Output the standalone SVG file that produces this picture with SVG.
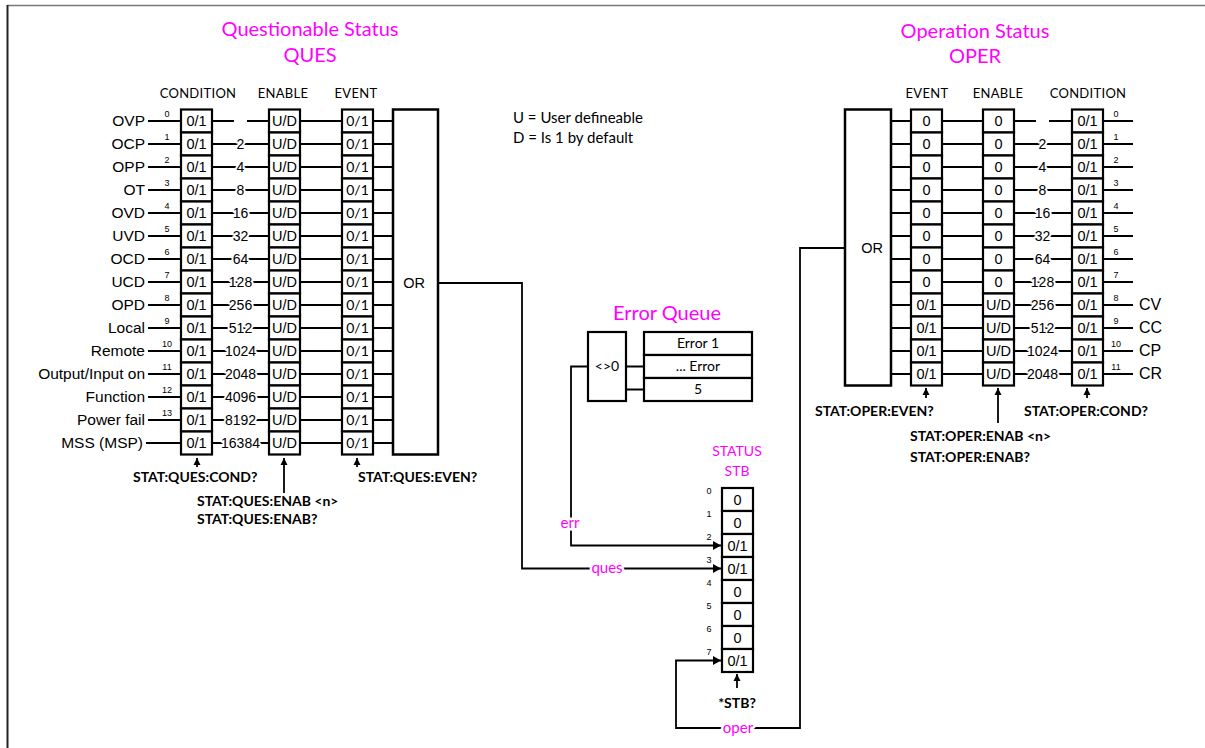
<svg xmlns="http://www.w3.org/2000/svg" width="1205" height="748" viewBox="0 0 1205 748">
<style>
.cell{fill:#fff;stroke:#000;stroke-width:2.2}
.box{fill:#fff;stroke:#000;stroke-width:2.5}
.ln{stroke:#000;stroke-width:1.8;fill:none}
.v{font-family:"Liberation Sans",Arial,sans-serif;font-size:14.5px;text-anchor:middle}
.ev{font-family:Lato,"Liberation Sans",sans-serif;font-size:14px;text-anchor:middle}
.lbl{font-family:"Liberation Sans",Arial,sans-serif;font-size:15.5px;text-anchor:end}
.lbr{font-family:"Liberation Sans",Arial,sans-serif;font-size:16px}
.num{font-family:"Liberation Sans",Arial,sans-serif;font-size:14px;text-anchor:middle;paint-order:stroke;stroke:#fff;stroke-width:4px;stroke-linejoin:round}
.bit{font-family:"Liberation Sans",sans-serif;font-size:9px;text-anchor:middle;fill:#000}
.hd{font-family:Lato,"Open Sans",sans-serif;font-size:13px;text-anchor:middle;letter-spacing:0.3px}
.cmd{font-family:Lato,"Open Sans",sans-serif;font-size:14px;font-weight:bold}
.mg{font-family:Lato,"Open Sans",sans-serif;fill:#f0f;text-anchor:middle}
.mgl{font-family:Lato,"Open Sans",sans-serif;font-size:15px;fill:#f0f;text-anchor:middle;paint-order:stroke;stroke:#fff;stroke-width:5px}
.note{font-family:Lato,"Open Sans",sans-serif;font-size:15px}
</style>
<defs>
<rect id="c" width="31" height="23" class="cell"/>
<marker id="ar" markerUnits="userSpaceOnUse" markerWidth="9" markerHeight="9" refX="8" refY="4.5" orient="auto">
<path d="M0,0 L8,4.5 L0,9 z" fill="#000"/>
</marker>
<marker id="au" markerUnits="userSpaceOnUse" markerWidth="8" markerHeight="8" refX="7" refY="4" orient="auto">
<path d="M0,0.5 L7,4 L0,7.5 z" fill="#000"/>
</marker>
</defs>
<rect width="1205" height="748" fill="#fff"/>
<g id="frame">
<line x1="7" y1="5.5" x2="1205" y2="5.5" stroke="#777" stroke-width="1.5"/>
<line x1="7.5" y1="5" x2="7.5" y2="748" stroke="#222" stroke-width="2"/>
</g>

<g id="titles">
<text class="mg" x="310" y="36" font-size="20">Questionable Status</text>
<text class="mg" x="310" y="62" font-size="20">QUES</text>
<text class="mg" x="975" y="38" font-size="20">Operation Status</text>
<text class="mg" x="975" y="63" font-size="20">OPER</text>
<text class="hd" x="198" y="98">CONDITION</text>
<text class="hd" x="283" y="98">ENABLE</text>
<text class="hd" x="356" y="98">EVENT</text>
<text class="hd" x="927" y="98">EVENT</text>
<text class="hd" x="998" y="98">ENABLE</text>
<text class="hd" x="1088" y="98">CONDITION</text>
<text class="note" x="513" y="123">U = User defineable</text>
<text class="note" x="513" y="143">D = Is 1 by default</text>
</g>

<g id="connectors" class="ln">
<!-- QUES rows -->
<path d="M148 121H181M212 121H234M247 121H269M299 121H342M372 121H393"/>
<path d="M148 144H181M212 144H269M299 144H342M372 144H393"/>
<path d="M148 167H181M212 167H269M299 167H342M372 167H393"/>
<path d="M148 190H181M212 190H269M299 190H342M372 190H393"/>
<path d="M148 213H181M212 213H269M299 213H342M372 213H393"/>
<path d="M148 236H181M212 236H269M299 236H342M372 236H393"/>
<path d="M148 259H181M212 259H269M299 259H342M372 259H393"/>
<path d="M148 282H181M212 282H269M299 282H342M372 282H393"/>
<path d="M148 305H181M212 305H269M299 305H342M372 305H393"/>
<path d="M148 328H181M212 328H269M299 328H342M372 328H393"/>
<path d="M148 351H181M212 351H269M299 351H342M372 351H393"/>
<path d="M148 374H181M212 374H269M299 374H342M372 374H393"/>
<path d="M148 397H181M212 397H269M299 397H342M372 397H393"/>
<path d="M148 420H181M212 420H269M299 420H342M372 420H393"/>
<path d="M146 443H181M212 443H269M299 443H342M372 443H393"/>
<!-- OPER rows -->
<path d="M891 121H911M941 121H983M1013 121H1036M1049 121H1072M1102 121H1133"/>
<path d="M891 144H911M941 144H983M1013 144H1072M1102 144H1133"/>
<path d="M891 167H911M941 167H983M1013 167H1072M1102 167H1133"/>
<path d="M891 190H911M941 190H983M1013 190H1072M1102 190H1133"/>
<path d="M891 213H911M941 213H983M1013 213H1072M1102 213H1133"/>
<path d="M891 236H911M941 236H983M1013 236H1072M1102 236H1133"/>
<path d="M891 259H911M941 259H983M1013 259H1072M1102 259H1133"/>
<path d="M891 282H911M941 282H983M1013 282H1072M1102 282H1133"/>
<path d="M891 305H911M941 305H983M1013 305H1072M1102 305H1133"/>
<path d="M891 328H911M941 328H983M1013 328H1072M1102 328H1133"/>
<path d="M891 351H911M941 351H983M1013 351H1072M1102 351H1133"/>
<path d="M891 374H911M941 374H983M1013 374H1072M1102 374H1133"/>
<!-- error queue links -->
<path d="M626 366.5H644M626 389.5H644"/>
<path d="M588 366.5H571V545.5H721" marker-end="url(#ar)"/>
<path d="M438 283H522V568.5H721" marker-end="url(#ar)"/>
<path d="M845 248H800V728H676V660.5H721" marker-end="url(#ar)"/>
<!-- query arrows -->
<path d="M197 467V458" marker-end="url(#au)"/>
<path d="M284 493V458" marker-end="url(#au)"/>
<path d="M357 467V458" marker-end="url(#au)"/>
<path d="M926 398V388" marker-end="url(#au)"/>
<path d="M998 423V388" marker-end="url(#au)"/>
<path d="M1087 398V388" marker-end="url(#au)"/>
<path d="M737 688V674" marker-end="url(#au)"/>
</g>

<g id="connector-labels" stroke="none" fill="#000">
<text class="num" x="240.5" y="149">2</text>
<text class="num" x="240.5" y="172">4</text>
<text class="num" x="240.5" y="195">8</text>
<text class="num" x="240.5" y="218">16</text>
<text class="num" x="240.5" y="241">32</text>
<text class="num" x="240.5" y="264">64</text>
<text class="num" x="240.5" y="287">128</text>
<text class="num" x="240.5" y="310">256</text>
<text class="num" x="240.5" y="333">512</text>
<text class="num" x="240.5" y="356">1024</text>
<text class="num" x="240.5" y="379">2048</text>
<text class="num" x="240.5" y="402">4096</text>
<text class="num" x="240.5" y="425">8192</text>
<text class="num" x="240.5" y="448">16384</text>
<text class="num" x="1042.5" y="149">2</text>
<text class="num" x="1042.5" y="172">4</text>
<text class="num" x="1042.5" y="195">8</text>
<text class="num" x="1042.5" y="218">16</text>
<text class="num" x="1042.5" y="241">32</text>
<text class="num" x="1042.5" y="264">64</text>
<text class="num" x="1042.5" y="287">128</text>
<text class="num" x="1042.5" y="310">256</text>
<text class="num" x="1042.5" y="333">512</text>
<text class="num" x="1042.5" y="356">1024</text>
<text class="num" x="1042.5" y="379">2048</text>
<text class="mgl" x="570" y="528">err</text>
<text class="mgl" x="607" y="573">ques</text>
<text class="mgl" x="738" y="733">oper</text>
</g>

<g id="ques-inputs">
<text class="lbl" x="145" y="126">OVP</text>
<text class="lbl" x="145" y="149">OCP</text>
<text class="lbl" x="145" y="172">OPP</text>
<text class="lbl" x="145" y="195">OT</text>
<text class="lbl" x="145" y="218">OVD</text>
<text class="lbl" x="145" y="241">UVD</text>
<text class="lbl" x="145" y="264">OCD</text>
<text class="lbl" x="145" y="287">UCD</text>
<text class="lbl" x="145" y="310">OPD</text>
<text class="lbl" x="145" y="333">Local</text>
<text class="lbl" x="145" y="356">Remote</text>
<text class="lbl" x="145" y="379">Output/Input  on</text>
<text class="lbl" x="145" y="402">Function</text>
<text class="lbl" x="145" y="425">Power fail</text>
<text class="lbl" x="143" y="448">MSS (MSP)</text>
<text class="bit" x="167" y="117">0</text>
<text class="bit" x="167" y="140">1</text>
<text class="bit" x="167" y="163">2</text>
<text class="bit" x="167" y="186">3</text>
<text class="bit" x="167" y="209">4</text>
<text class="bit" x="167" y="232">5</text>
<text class="bit" x="167" y="255">6</text>
<text class="bit" x="167" y="278">7</text>
<text class="bit" x="167" y="301">8</text>
<text class="bit" x="167" y="324">9</text>
<text class="bit" x="167" y="347">10</text>
<text class="bit" x="167" y="370">11</text>
<text class="bit" x="167" y="393">12</text>
<text class="bit" x="167" y="416">13</text>
</g>

<g id="ques-condition">
<use href="#c" x="181" y="109.5"/><use href="#c" x="181" y="132.5"/><use href="#c" x="181" y="155.5"/><use href="#c" x="181" y="178.5"/><use href="#c" x="181" y="201.5"/><use href="#c" x="181" y="224.5"/><use href="#c" x="181" y="247.5"/><use href="#c" x="181" y="270.5"/><use href="#c" x="181" y="293.5"/><use href="#c" x="181" y="316.5"/><use href="#c" x="181" y="339.5"/><use href="#c" x="181" y="362.5"/><use href="#c" x="181" y="385.5"/><use href="#c" x="181" y="408.5"/><use href="#c" x="181" y="431.5"/>
<text class="v" x="196.5" y="126">0/1</text><text class="v" x="196.5" y="149">0/1</text><text class="v" x="196.5" y="172">0/1</text><text class="v" x="196.5" y="195">0/1</text><text class="v" x="196.5" y="218">0/1</text><text class="v" x="196.5" y="241">0/1</text><text class="v" x="196.5" y="264">0/1</text><text class="v" x="196.5" y="287">0/1</text><text class="v" x="196.5" y="310">0/1</text><text class="v" x="196.5" y="333">0/1</text><text class="v" x="196.5" y="356">0/1</text><text class="v" x="196.5" y="379">0/1</text><text class="v" x="196.5" y="402">0/1</text><text class="v" x="196.5" y="425">0/1</text><text class="v" x="196.5" y="448">0/1</text>
</g>

<g id="ques-enable">
<use href="#c" x="269" y="109.5"/><use href="#c" x="269" y="132.5"/><use href="#c" x="269" y="155.5"/><use href="#c" x="269" y="178.5"/><use href="#c" x="269" y="201.5"/><use href="#c" x="269" y="224.5"/><use href="#c" x="269" y="247.5"/><use href="#c" x="269" y="270.5"/><use href="#c" x="269" y="293.5"/><use href="#c" x="269" y="316.5"/><use href="#c" x="269" y="339.5"/><use href="#c" x="269" y="362.5"/><use href="#c" x="269" y="385.5"/><use href="#c" x="269" y="408.5"/><use href="#c" x="269" y="431.5"/>
<text class="v" x="284.5" y="126">U/D</text><text class="v" x="284.5" y="149">U/D</text><text class="v" x="284.5" y="172">U/D</text><text class="v" x="284.5" y="195">U/D</text><text class="v" x="284.5" y="218">U/D</text><text class="v" x="284.5" y="241">U/D</text><text class="v" x="284.5" y="264">U/D</text><text class="v" x="284.5" y="287">U/D</text><text class="v" x="284.5" y="310">U/D</text><text class="v" x="284.5" y="333">U/D</text><text class="v" x="284.5" y="356">U/D</text><text class="v" x="284.5" y="379">U/D</text><text class="v" x="284.5" y="402">U/D</text><text class="v" x="284.5" y="425">U/D</text><text class="v" x="284.5" y="448">U/D</text>
</g>

<g id="ques-event">
<use href="#c" x="342" y="109.5"/><use href="#c" x="342" y="132.5"/><use href="#c" x="342" y="155.5"/><use href="#c" x="342" y="178.5"/><use href="#c" x="342" y="201.5"/><use href="#c" x="342" y="224.5"/><use href="#c" x="342" y="247.5"/><use href="#c" x="342" y="270.5"/><use href="#c" x="342" y="293.5"/><use href="#c" x="342" y="316.5"/><use href="#c" x="342" y="339.5"/><use href="#c" x="342" y="362.5"/><use href="#c" x="342" y="385.5"/><use href="#c" x="342" y="408.5"/><use href="#c" x="342" y="431.5"/>
<text class="ev" x="357.5" y="126">0/1</text><text class="ev" x="357.5" y="149">0/1</text><text class="ev" x="357.5" y="172">0/1</text><text class="ev" x="357.5" y="195">0/1</text><text class="ev" x="357.5" y="218">0/1</text><text class="ev" x="357.5" y="241">0/1</text><text class="ev" x="357.5" y="264">0/1</text><text class="ev" x="357.5" y="287">0/1</text><text class="ev" x="357.5" y="310">0/1</text><text class="ev" x="357.5" y="333">0/1</text><text class="ev" x="357.5" y="356">0/1</text><text class="ev" x="357.5" y="379">0/1</text><text class="ev" x="357.5" y="402">0/1</text><text class="ev" x="357.5" y="425">0/1</text><text class="ev" x="357.5" y="448">0/1</text>
</g>

<g id="ques-or">
<rect class="box" x="393" y="109.5" width="45" height="345"/>
<text class="v" x="414" y="288" font-family="Lato,sans-serif" font-size="13">OR</text>
</g>

<g id="ques-queries">
<text class="cmd" x="133" y="482">STAT:QUES:COND?</text>
<text class="cmd" x="197" y="506">STAT:QUES:ENAB &lt;n&gt;</text>
<text class="cmd" x="197" y="524">STAT:QUES:ENAB?</text>
<text class="cmd" x="358" y="482">STAT:QUES:EVEN?</text>
</g>

<g id="error-queue">
<text class="mg" x="667" y="320" font-size="20">Error Queue</text>
<rect class="cell" x="588" y="332" width="38" height="69"/>
<text class="ev" x="607" y="371" font-size="13.5">&lt;&gt;0</text>
<rect class="cell" x="644" y="332" width="108" height="23"/>
<rect class="cell" x="644" y="355" width="108" height="23"/>
<rect class="cell" x="644" y="378" width="108" height="23"/>
<text class="ev" x="698" y="348" font-size="13.5">Error 1</text>
<text class="ev" x="698" y="371" font-size="13.5">... Error</text>
<text class="ev" x="698" y="394" font-size="13.5">5</text>
</g>

<g id="stb">
<text class="mg" x="737" y="456" font-size="14">STATUS</text>
<text class="mg" x="737" y="476" font-size="14">STB</text>
<use href="#c" x="722" y="488"/><use href="#c" x="722" y="511"/><use href="#c" x="722" y="534"/><use href="#c" x="722" y="557"/><use href="#c" x="722" y="580"/><use href="#c" x="722" y="603"/><use href="#c" x="722" y="626"/><use href="#c" x="722" y="649"/>
<text class="v" x="737.5" y="504.5">0</text><text class="v" x="737.5" y="527.5">0</text><text class="v" x="737.5" y="550.5">0/1</text><text class="v" x="737.5" y="573.5">0/1</text><text class="v" x="737.5" y="596.5">0</text><text class="v" x="737.5" y="619.5">0</text><text class="v" x="737.5" y="642.5">0</text><text class="v" x="737.5" y="665.5">0/1</text>
<text class="bit" x="709" y="494">0</text><text class="bit" x="709" y="517">1</text><text class="bit" x="709" y="540">2</text><text class="bit" x="709" y="563">3</text><text class="bit" x="709" y="586">4</text><text class="bit" x="709" y="609">5</text><text class="bit" x="709" y="632">6</text><text class="bit" x="709" y="655">7</text>
<text class="cmd" x="737" y="708" text-anchor="middle">*STB?</text>
</g>

<g id="oper-or">
<rect class="box" x="845" y="109.5" width="46" height="276"/>
<text class="v" x="872" y="253" font-family="Lato,sans-serif" font-size="13">OR</text>
</g>

<g id="oper-event">
<use href="#c" x="911" y="109.5"/><use href="#c" x="911" y="132.5"/><use href="#c" x="911" y="155.5"/><use href="#c" x="911" y="178.5"/><use href="#c" x="911" y="201.5"/><use href="#c" x="911" y="224.5"/><use href="#c" x="911" y="247.5"/><use href="#c" x="911" y="270.5"/><use href="#c" x="911" y="293.5"/><use href="#c" x="911" y="316.5"/><use href="#c" x="911" y="339.5"/><use href="#c" x="911" y="362.5"/>
<text class="v" x="926.5" y="126">0</text><text class="v" x="926.5" y="149">0</text><text class="v" x="926.5" y="172">0</text><text class="v" x="926.5" y="195">0</text><text class="v" x="926.5" y="218">0</text><text class="v" x="926.5" y="241">0</text><text class="v" x="926.5" y="264">0</text><text class="v" x="926.5" y="287">0</text><text class="v" x="926.5" y="310">0/1</text><text class="v" x="926.5" y="333">0/1</text><text class="v" x="926.5" y="356">0/1</text><text class="v" x="926.5" y="379">0/1</text>
</g>

<g id="oper-enable">
<use href="#c" x="983" y="109.5"/><use href="#c" x="983" y="132.5"/><use href="#c" x="983" y="155.5"/><use href="#c" x="983" y="178.5"/><use href="#c" x="983" y="201.5"/><use href="#c" x="983" y="224.5"/><use href="#c" x="983" y="247.5"/><use href="#c" x="983" y="270.5"/><use href="#c" x="983" y="293.5"/><use href="#c" x="983" y="316.5"/><use href="#c" x="983" y="339.5"/><use href="#c" x="983" y="362.5"/>
<text class="v" x="998.5" y="126">0</text><text class="v" x="998.5" y="149">0</text><text class="v" x="998.5" y="172">0</text><text class="v" x="998.5" y="195">0</text><text class="v" x="998.5" y="218">0</text><text class="v" x="998.5" y="241">0</text><text class="v" x="998.5" y="264">0</text><text class="v" x="998.5" y="287">0</text><text class="v" x="998.5" y="310">U/D</text><text class="v" x="998.5" y="333">U/D</text><text class="v" x="998.5" y="356">U/D</text><text class="v" x="998.5" y="379">U/D</text>
</g>

<g id="oper-condition">
<use href="#c" x="1072" y="109.5"/><use href="#c" x="1072" y="132.5"/><use href="#c" x="1072" y="155.5"/><use href="#c" x="1072" y="178.5"/><use href="#c" x="1072" y="201.5"/><use href="#c" x="1072" y="224.5"/><use href="#c" x="1072" y="247.5"/><use href="#c" x="1072" y="270.5"/><use href="#c" x="1072" y="293.5"/><use href="#c" x="1072" y="316.5"/><use href="#c" x="1072" y="339.5"/><use href="#c" x="1072" y="362.5"/>
<text class="v" x="1087.5" y="126">0/1</text><text class="v" x="1087.5" y="149">0/1</text><text class="v" x="1087.5" y="172">0/1</text><text class="v" x="1087.5" y="195">0/1</text><text class="v" x="1087.5" y="218">0/1</text><text class="v" x="1087.5" y="241">0/1</text><text class="v" x="1087.5" y="264">0/1</text><text class="v" x="1087.5" y="287">0/1</text><text class="v" x="1087.5" y="310">0/1</text><text class="v" x="1087.5" y="333">0/1</text><text class="v" x="1087.5" y="356">0/1</text><text class="v" x="1087.5" y="379">0/1</text>
</g>

<g id="oper-inputs">
<text class="bit" x="1116" y="117">0</text><text class="bit" x="1116" y="140">1</text><text class="bit" x="1116" y="163">2</text><text class="bit" x="1116" y="186">3</text><text class="bit" x="1116" y="209">4</text><text class="bit" x="1116" y="232">5</text><text class="bit" x="1116" y="255">6</text><text class="bit" x="1116" y="278">7</text><text class="bit" x="1116" y="301">8</text><text class="bit" x="1116" y="324">9</text><text class="bit" x="1116" y="347">10</text><text class="bit" x="1116" y="370">11</text>
<text class="lbr" x="1139" y="310">CV</text>
<text class="lbr" x="1139" y="333">CC</text>
<text class="lbr" x="1139" y="356">CP</text>
<text class="lbr" x="1139" y="379">CR</text>
</g>

<g id="oper-queries">
<text class="cmd" x="815" y="416">STAT:OPER:EVEN?</text>
<text class="cmd" x="910" y="441">STAT:OPER:ENAB &lt;n&gt;</text>
<text class="cmd" x="910" y="462">STAT:OPER:ENAB?</text>
<text class="cmd" x="1024" y="416">STAT:OPER:COND?</text>
</g>
</svg>
